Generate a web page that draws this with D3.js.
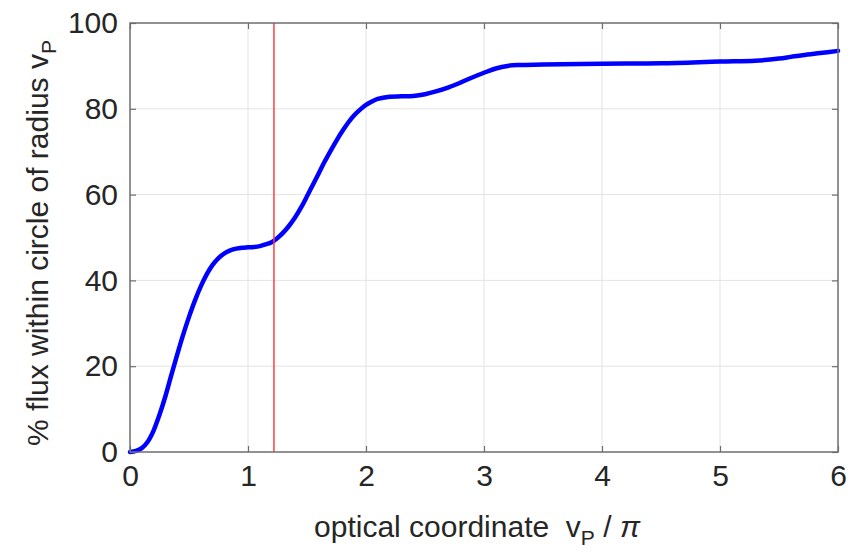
<!DOCTYPE html>
<html>
<head>
<meta charset="utf-8">
<script src="https://cdn.jsdelivr.net/npm/d3@7"></script>
<style>
  body { margin: 0; background: #fff; }
  svg text { font-family: "Liberation Sans", Arial, sans-serif; fill: #262626; }
</style>
</head>
<body>
<script>
// size of the figure
var totalWidth = 849;
var totalHeight = 552;

var margin = {top: 23, right: 11, bottom: 100, left: 130},
    width = totalWidth - margin.left - margin.right,
    height = totalHeight - margin.top - margin.bottom;

// curve: x in units of pi, y in percent
var xValues = [0, 0.05, 0.1, 0.15, 0.2, 0.25, 0.3, 0.35, 0.4, 0.45, 0.5, 0.55, 0.6, 0.65, 0.7,
    0.75, 0.8, 0.85, 0.9, 0.95, 1.0, 1.05, 1.1, 1.15, 1.2, 1.25, 1.3, 1.35, 1.4, 1.45, 1.5,
    1.55, 1.6, 1.65, 1.7, 1.75, 1.8, 1.85, 1.9, 1.95, 2.0, 2.05, 2.1, 2.2, 2.3, 2.4, 2.5,
    2.6, 2.7, 2.8, 2.9, 3.0, 3.1, 3.2, 3.3, 3.5, 4.0, 4.5, 5.0, 5.3, 5.5, 5.6, 5.7, 5.85, 6.0];
var fluxValues = [0, 0.25, 0.9, 2.4, 5.0, 8.7, 13.0, 17.9, 22.7, 27.3, 31.5, 35.3, 38.6, 41.4, 43.6,
    45.2, 46.3, 47.0, 47.4, 47.6, 47.7, 47.8, 48.0, 48.4, 48.9, 49.9, 51.2, 52.8, 54.7, 57.0, 59.6,
    62.3, 65.0, 67.7, 70.2, 72.6, 74.8, 76.8, 78.5, 79.8, 80.9, 81.7, 82.3, 82.8, 82.9, 83.0, 83.4,
    84.1, 85.0, 86.1, 87.3, 88.4, 89.4, 90.0, 90.2, 90.3, 90.5, 90.6, 91.0, 91.2, 91.7, 92.1, 92.5, 93.0, 93.5];

var xTicks = [0, 1, 2, 3, 4, 5, 6];
var yTicks = [0, 20, 40, 60, 80, 100];
var markerX = 1.22;   // first dark ring

var axisColor = "#6e6e6e";
var gridColor = "#e3e3e3";
var fontSize = 30;

var svg = d3.select("body").append("svg")
    .attr("width", totalWidth)
    .attr("height", totalHeight);

var g = svg.append("g")
    .attr("transform", "translate(" + margin.left + "," + margin.top + ")");

var xScale = d3.scaleLinear().domain([0, 6]).range([0, width]);
var yScale = d3.scaleLinear().domain([0, 100]).range([height, 0]);

// grid
g.append("g")
    .selectAll("line")
    .data(xTicks.slice(1, -1))
    .enter().append("line")
    .attr("x1", d => xScale(d)).attr("x2", d => xScale(d))
    .attr("y1", 0).attr("y2", height)
    .attr("stroke", gridColor).attr("stroke-width", 1);
g.append("g")
    .selectAll("line")
    .data(yTicks.slice(1, -1))
    .enter().append("line")
    .attr("x1", 0).attr("x2", width)
    .attr("y1", d => yScale(d)).attr("y2", d => yScale(d))
    .attr("stroke", gridColor).attr("stroke-width", 1);

// data line
var line = d3.line()
    .x((d, i) => xScale(xValues[i]))
    .y(d => yScale(d))
    .curve(d3.curveCatmullRom.alpha(0.5));

g.append("path")
    .datum(fluxValues)
    .attr("d", line)
    .attr("fill", "none")
    .attr("stroke", "#0000ff")
    .attr("stroke-width", 4.5)
    .attr("stroke-linejoin", "round")
    .attr("stroke-linecap", "round");

// red marker line
g.append("line")
    .attr("x1", xScale(markerX)).attr("x2", xScale(markerX))
    .attr("y1", 0).attr("y2", height)
    .attr("stroke", "#ff4040")
    .attr("stroke-width", 1.5);

// axes with inward ticks on all four sides
var tickLen = 6;
function styleAxis(sel) {
    sel.select(".domain").remove();
    sel.selectAll(".tick line").attr("stroke", axisColor).attr("stroke-width", 1.2);
    sel.selectAll(".tick text").attr("fill", "#262626").style("font-size", fontSize + "px");
}

g.append("g")
    .attr("transform", "translate(0," + height + ")")
    .call(d3.axisBottom(xScale).tickValues(xTicks).tickFormat(d3.format("d"))
        .tickSizeInner(-tickLen).tickSizeOuter(0).tickPadding(13))
    .call(styleAxis);

g.append("g")
    .call(d3.axisLeft(yScale).tickValues(yTicks).tickFormat(d3.format("d"))
        .tickSizeInner(-tickLen).tickSizeOuter(0).tickPadding(12))
    .call(styleAxis);

g.append("g")
    .call(d3.axisTop(xScale).tickValues(xTicks).tickFormat("")
        .tickSizeInner(-tickLen).tickSizeOuter(0))
    .call(styleAxis);

g.append("g")
    .attr("transform", "translate(" + width + ",0)")
    .call(d3.axisRight(yScale).tickValues(yTicks).tickFormat("")
        .tickSizeInner(-tickLen).tickSizeOuter(0))
    .call(styleAxis);

// box
g.append("rect")
    .attr("x", 0).attr("y", 0)
    .attr("width", width).attr("height", height)
    .attr("fill", "none")
    .attr("stroke", axisColor)
    .attr("stroke-width", 1.5);

// axis labels
var xLabel = svg.append("text")
    .attr("x", 477)
    .attr("y", 537)
    .attr("text-anchor", "middle")
    .style("font-size", fontSize + "px");
xLabel.append("tspan").text("optical coordinate\u00a0\u00a0v");
xLabel.append("tspan").attr("dy", 8).style("font-size", "21px").text("P");
xLabel.append("tspan").attr("dy", -8).text(" / ");
xLabel.append("tspan").style("font-style", "italic").text("\u03c0");

var yLabel = svg.append("text")
    .attr("transform", "translate(48,243) rotate(-90)")
    .attr("text-anchor", "middle")
    .style("font-size", fontSize + "px");
yLabel.append("tspan").text("% flux within circle of radius v");
yLabel.append("tspan").attr("dy", 8).style("font-size", "21px").text("P");
</script>
</body>
</html>
